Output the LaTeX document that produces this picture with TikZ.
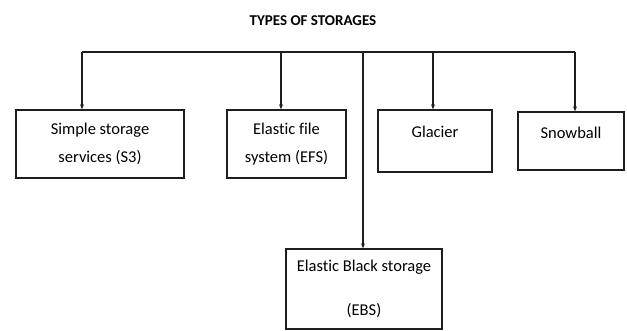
\documentclass[tikz,border=0pt]{standalone}
\usepackage{fontspec}
\setmainfont[Ligatures=NoCommon]{Carlito}
\usetikzlibrary{arrows.meta}
\definecolor{BoxLine}{RGB}{30,30,30}
\tikzset{
  nd_box/.style={
    rectangle, draw=BoxLine, line width=1.4pt,
    align=center, font=\fontsize{16.5}{28}\selectfont,
    inner sep=0pt},
  nd_title/.style={font=\fontsize{15}{17}\selectfont\bfseries},
  arr/.style={-{Stealth[length=5pt,width=4pt]},line width=1.2pt,draw=BoxLine},
  bus/.style={line width=1.3pt,draw=BoxLine},
}

\begin{document}
\begin{tikzpicture}[x=1pt,y=-1pt]
\useasboundingbox (0,0) rectangle (627,331);

\node[nd_title] at (313,21) (T){TYPES OF STORAGES};

%% boxes
\node[nd_box,minimum width=168pt,minimum height=68pt] at (100,144)   (S3){Simple storage\\services (S3)};
\node[nd_box,minimum width=119pt,minimum height=68pt] at (286.5,144) (EFS){Elastic file\\system (EFS)};
\node[nd_box,minimum width=114pt,minimum height=62pt] at (435,141)   (GL){Glacier\\[-10pt]\mbox{}};
\node[nd_box,minimum width=106pt,minimum height=58pt] at (571,141)   (SB){Snowball\\[-12pt]\mbox{}};
\node[nd_box,minimum width=156pt,minimum height=80pt] at (364,289)   (EBS){Elastic Black storage\\[16pt](EBS)};

%% bus line
\coordinate (jS3) at (82,52);
\coordinate (jEFS) at (281,52);
\coordinate (jEBS) at (363,52);
\coordinate (jGL) at (433,52);
\coordinate (jSB) at (575,52);
\draw[bus] (jS3)--(jSB);

\foreach \j/\n in {jS3/S3,jEFS/EFS,jEBS/EBS,jGL/GL,jSB/SB}
  {\draw[arr] (\j)--(\j |- \n.north);}

\end{tikzpicture}
\end{document}
